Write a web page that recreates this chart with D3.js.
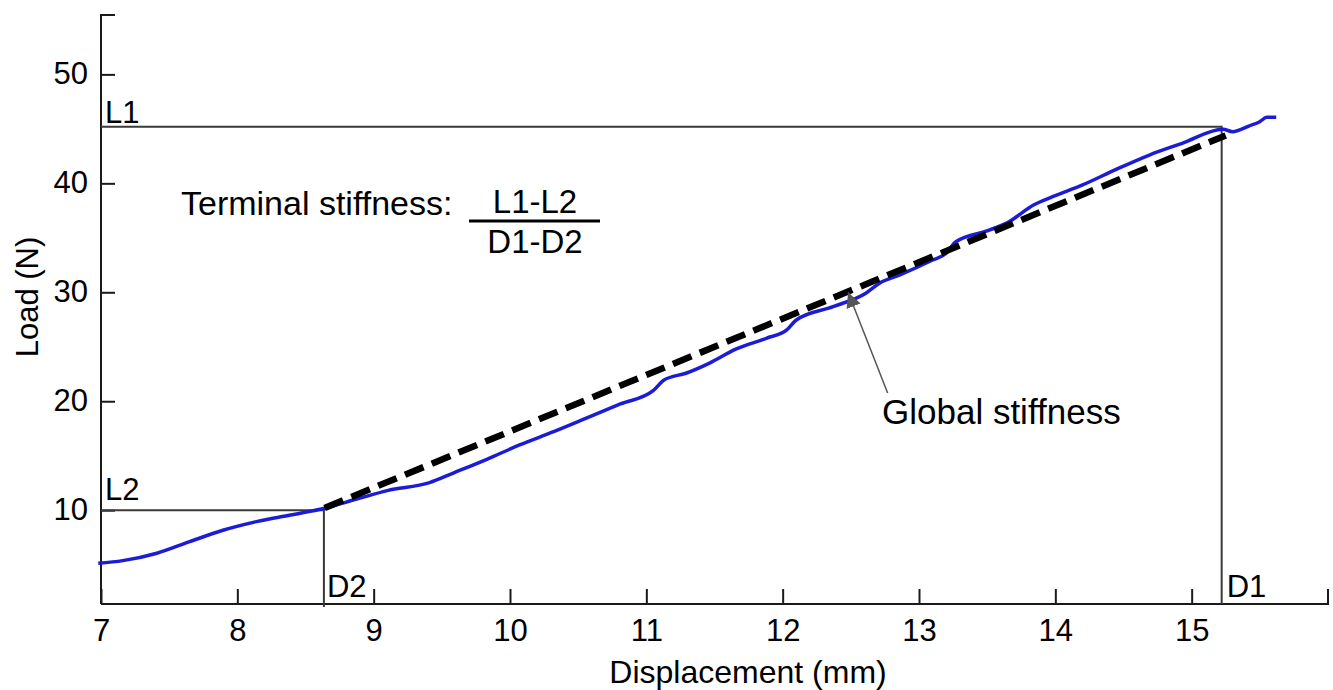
<!DOCTYPE html>
<html>
<head>
<meta charset="utf-8">
<script src="https://cdn.jsdelivr.net/npm/d3@7"></script>
<style>
  html, body { margin: 0; padding: 0; background: #fff; }
  svg text { font-family: Arial, "Liberation Sans", sans-serif; fill: #000; }
</style>
</head>
<body>
<svg id="chart" width="1333" height="690"></svg>
<script>
// ---- data ----
const displacement = [6.98,7.16,7.41,7.65,7.90,8.14,8.39,8.64,8.87,9.10,9.41,9.58,9.83,10.07,10.32,10.56,10.81,11.05,11.13,11.29,11.46,11.66,11.88,12.03,12.10,12.37,12.61,12.71,12.86,13.10,13.20,13.27,13.52,13.66,13.84,13.98,14.20,14.45,14.69,14.93,15.23,15.30,15.42,15.50,15.55,15.62];
const load = [5.13,5.37,6.05,7.11,8.18,8.95,9.56,10.18,11.0,11.8,12.53,13.39,14.67,15.99,17.2,18.44,19.75,20.97,21.95,22.57,23.48,24.8,25.78,26.54,27.46,28.68,29.91,30.83,31.59,32.96,33.58,34.64,35.72,36.48,38.01,38.77,39.85,41.3,42.6,43.67,44.96,44.74,45.26,45.66,46.06,46.06];
const globalStiffnessX = [8.64, 15.25];
const globalStiffnessY = [10.2, 44.4];
const xTicks = [7, 8, 9, 10, 11, 12, 13, 14, 15];
const yTicks = [10, 20, 30, 40, 50];
const L1 = 45.2, L2 = 10.0, D1 = 15.22, D2 = 8.635;

// ---- layout ----
const svg = d3.select("#chart");
const x = d3.scaleLinear().domain([7, 16]).range([101, 1328]);
const y = d3.scaleLinear().domain([1.39, 55.45]).range([604, 15]);
const axisColor = "#1a1a1a";

// axes
const xAxis = svg.append("g").attr("transform", `translate(0,${y.range()[0]})`)
  .call(d3.axisBottom(x).tickValues(xTicks).tickSize(-15).tickPadding(0).tickFormat(d3.format("d")));
xAxis.select(".domain").attr("d", `M${x.range()[0]},0H${x.range()[1]}V-15`);
xAxis.selectAll(".tick text").attr("font-size", 31).attr("dy", "1.18em").attr("y", 0);

const yAxis = svg.append("g").attr("transform", `translate(${x.range()[0]},0)`)
  .call(d3.axisLeft(y).tickValues(yTicks).tickSize(-14).tickPadding(13).tickFormat(d3.format("d")));
yAxis.select(".domain").attr("d", `M14,${y.range()[1]}H0V${y.range()[0]}`);
yAxis.selectAll(".tick text").attr("font-size", 31).attr("x", -13).attr("dy", "0.3em");

svg.selectAll(".domain, .tick line").attr("stroke", axisColor).attr("stroke-width", 2);

// axis titles
svg.append("text").attr("x", 748).attr("y", 683).attr("text-anchor", "middle")
  .attr("font-size", 32).text("Displacement (mm)");
svg.append("text").attr("transform", `translate(38,297) rotate(-90)`).attr("text-anchor", "middle")
  .attr("font-size", 31).text("Load (N)");

// reference lines
const refColor = "#3a3a3a";
svg.append("path").attr("fill", "none").attr("stroke", refColor).attr("stroke-width", 2)
  .attr("d", `M${x(7)},${y(L1)}H${x(D1)}V${y.range()[0]}`);
svg.append("path").attr("fill", "none").attr("stroke", refColor).attr("stroke-width", 2)
  .attr("d", `M${x(7)},${y(L2)}H${x(D2)}V${y.range()[0] + 3}`);

// measured curve
const line = d3.line().x(d => x(d[0])).y(d => y(d[1])).curve(d3.curveMonotoneX);
svg.append("path").datum(d3.zip(displacement, load))
  .attr("fill", "none").attr("stroke", "#1c1cd6").attr("stroke-width", 3.5)
  .attr("stroke-linejoin", "round").attr("d", line);

// global stiffness dashed line
svg.append("path").datum(d3.zip(globalStiffnessX, globalStiffnessY))
  .attr("fill", "none").attr("stroke", "#000").attr("stroke-width", 6.5)
  .attr("stroke-dasharray", "20,9").attr("d", d3.line().x(d => x(d[0])).y(d => y(d[1])));

// labels
svg.append("text").attr("x", 105).attr("y", y(L1) - 4).attr("font-size", 31).text("L1");
svg.append("text").attr("x", 105).attr("y", y(L2) - 10).attr("font-size", 31).text("L2");
svg.append("text").attr("x", x(D2) + 3).attr("y", 597).attr("font-size", 31).text("D2");
svg.append("text").attr("x", x(D1) + 5).attr("y", 597).attr("font-size", 31).text("D1");

// terminal stiffness formula
svg.append("text").attr("x", 181).attr("y", 215).attr("font-size", 34).text("Terminal stiffness:");
svg.append("text").attr("x", 535).attr("y", 213).attr("text-anchor", "middle").attr("font-size", 33).text("L1-L2");
svg.append("line").attr("x1", 469).attr("x2", 600).attr("y1", 221).attr("y2", 221)
  .attr("stroke", "#000").attr("stroke-width", 3);
svg.append("text").attr("x", 535).attr("y", 253).attr("text-anchor", "middle").attr("font-size", 33).text("D1-D2");

// global stiffness arrow
const defs = svg.append("defs");
defs.append("marker").attr("id", "arrow").attr("viewBox", "0 0 10 10").attr("refX", 10).attr("refY", 5)
  .attr("markerWidth", 15).attr("markerHeight", 15).attr("markerUnits", "userSpaceOnUse").attr("orient", "auto")
  .append("path").attr("d", "M0,0L10,5L0,10Z").attr("fill", "#555");
svg.append("line").attr("x1", x(12.77)).attr("y1", y(20.76)).attr("x2", x(12.48)).attr("y2", y(30.0))
  .attr("stroke", "#555").attr("stroke-width", 1.5).attr("marker-end", "url(#arrow)");
svg.append("text").attr("x", 882).attr("y", 424).attr("font-size", 35).text("Global stiffness");
</script>
</body>
</html>
